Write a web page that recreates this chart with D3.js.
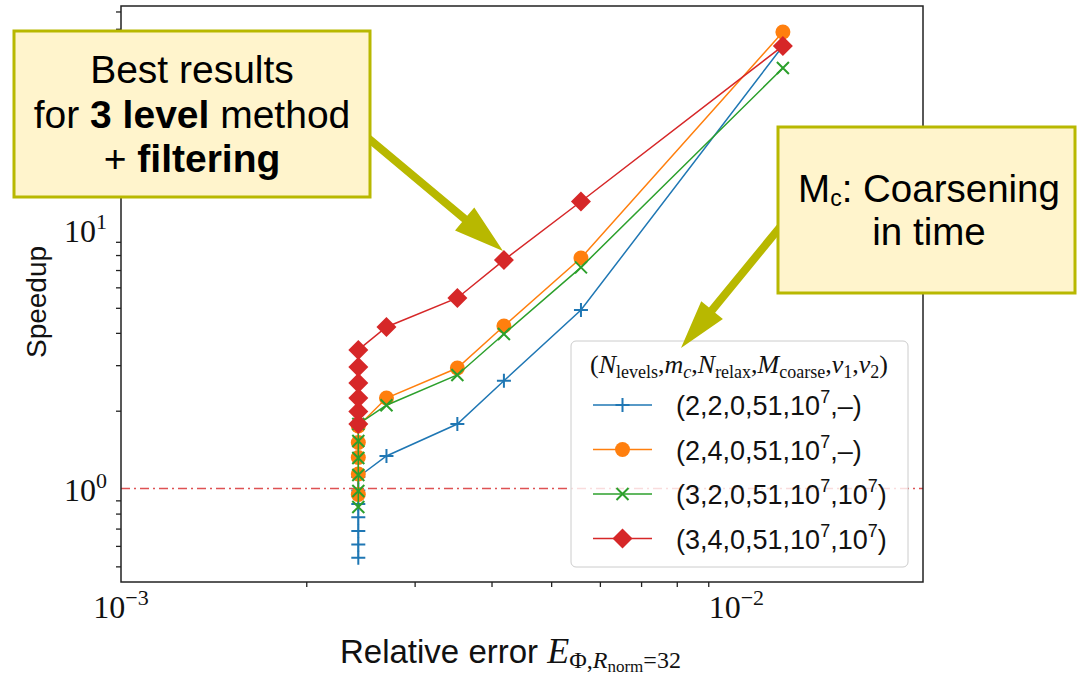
<!DOCTYPE html>
<html>
<head>
<meta charset="utf-8">
<script src="https://cdn.jsdelivr.net/npm/d3@7"></script>
<style>
body { margin: 0; background: #fff; }
svg { display: block; }
</style>
</head>
<body>
<svg id="chart" width="1080" height="676"></svg>
<script>
// relative error of the runs: the vertical cluster and the sweep to the right
var errCluster = 0.00243;
var errSweep = [0.00270, 0.00352, 0.00419, 0.00559, 0.0119];

// speedup values, 4 configurations
var blueCluster = [0.540, 0.608, 0.685, 0.774, 0.871, 0.982, 1.108];
var blueSweep = [1.336, 1.776, 2.61, 4.90, 51.5];
var orangeCluster = [0.948, 1.138, 1.318, 1.506, 1.745];
var orangeSweep = [2.239, 2.925, 4.253, 7.79, 58.3];
var greenCluster = [0.848, 0.978, 1.128, 1.312, 1.527, 1.776];
var greenSweep = [2.10, 2.75, 3.96, 7.17, 42.3];
var redCluster = [1.776, 1.986, 2.239, 2.559, 2.951, 3.435];
var redSweep = [4.216, 5.458, 7.65, 12.89, 51.5];

var seriesLabels = ["(2,2,0,51,10", "(2,4,0,51,10", "(3,2,0,51,10", "(3,4,0,51,10"];
var seriesTails = [",\u2013)", ",\u2013)", ",10", ",10"];
var colors = ["#1f77b4", "#ff7f0e", "#2ca02c", "#d62728"];
var markers = ["plus", "circle", "cross", "diamond"];

var xMajor = [1e-3, 1e-2];
var xMinor = [2e-3, 3e-3, 4e-3, 5e-3, 6e-3, 7e-3, 8e-3, 9e-3];
var yMajor = [1, 10];
var yMinor = [0.5, 0.6, 0.7, 0.8, 0.9, 2, 3, 4, 5, 6, 7, 8, 9, 20, 30, 40, 50, 60, 70];

var svg = d3.select("#chart");
var pL = 121, pR = 923, pT = 6, pB = 582;

var x = d3.scaleLog().domain([1e-3, 0.0201]).range([pL, pR]);
var y = d3.scaleLog().domain([0.435, 73.5]).range([pB, pT]);

function build(cluster, sweep) {
	return cluster.map(function(v) { return [errCluster, v]; })
		.concat(sweep.map(function(v, i) { return [errSweep[i], v]; }));
}
var series = [
	build(blueCluster, blueSweep),
	build(orangeCluster, orangeSweep),
	build(greenCluster, greenSweep),
	build(redCluster, redSweep)
];

var serif = "'Liberation Serif', 'DejaVu Serif', serif";
var sans = "'Liberation Sans', Arial, sans-serif";

// reference line at speedup 1
svg.append("line")
	.attr("x1", pL).attr("x2", pR)
	.attr("y1", y(1)).attr("y2", y(1))
	.style("stroke", "#d62728").style("stroke-opacity", 0.8)
	.style("stroke-width", 1.5)
	.style("stroke-dasharray", "9,4,2,4");

// axes
var xAxisG = svg.append("g").attr("transform", "translate(0," + pB + ")");
xAxisG.call(d3.axisBottom(x).tickValues(xMajor).tickFormat("").tickSize(8).tickSizeOuter(0));
xAxisG.call(d3.axisBottom(x).tickValues(xMinor).tickFormat("").tickSize(5).tickSizeOuter(0));
var yAxisG = svg.append("g").attr("transform", "translate(" + pL + ",0)");
yAxisG.call(d3.axisLeft(y).tickValues(yMajor).tickFormat("").tickSize(8).tickSizeOuter(0));
yAxisG.call(d3.axisLeft(y).tickValues(yMinor).tickFormat("").tickSize(5).tickSizeOuter(0));
svg.selectAll(".domain").remove();
svg.selectAll(".tick line").style("stroke", "#222").style("stroke-width", 1.3);

svg.append("rect")
	.attr("x", pL).attr("y", pT)
	.attr("width", pR - pL).attr("height", pB - pT)
	.style("fill", "none").style("stroke", "#222").style("stroke-width", 1.5);

// tick labels
xMajor.forEach(function(v) {
	var t = svg.append("text")
		.attr("x", x(v)).attr("y", pB + 36)
		.attr("text-anchor", "middle")
		.style("font-family", serif).style("font-size", "32px").style("fill", "#111");
	t.append("tspan").text("10");
	t.append("tspan").attr("dy", -13).style("font-size", "22px").text("\u2212" + Math.round(-Math.log10(v)));
});
yMajor.forEach(function(v) {
	var t = svg.append("text")
		.attr("x", pL - 14).attr("y", y(v) + 12)
		.attr("text-anchor", "end")
		.style("font-family", serif).style("font-size", "32px").style("fill", "#111");
	t.append("tspan").text("10");
	t.append("tspan").attr("dy", -13).style("font-size", "22px").text(Math.round(Math.log10(v)));
});

// axis titles
svg.append("text")
	.attr("transform", "translate(46," + 302 + ") rotate(-90)")
	.attr("text-anchor", "middle")
	.style("font-family", sans).style("font-size", "28px").style("fill", "#111")
	.text("Speedup");

var xl = svg.append("text")
	.attr("x", 340).attr("y", 663)
	.style("font-family", sans).style("font-size", "33px").style("fill", "#111");
xl.append("tspan").text("Relative error ");
xl.append("tspan").style("font-family", serif).style("font-style", "italic").style("font-size", "36px").text("E");
xl.append("tspan").attr("dy", 5).style("font-family", serif).style("font-size", "24px").text("\u03a6,");
xl.append("tspan").style("font-family", serif).style("font-style", "italic").style("font-size", "24px").text("R");
xl.append("tspan").attr("dy", 4).style("font-family", serif).style("font-size", "17px").text("norm");
xl.append("tspan").attr("dy", -4).style("font-family", serif).style("font-size", "24px").text("=32");

// marker shapes
function markerPath(kind) {
	if (kind == "plus") return "M-7,0H7M0,-7V7";
	if (kind == "cross") return "M-6,-6L6,6M-6,6L6,-6";
	if (kind == "diamond") return "M0,-10L10,0L0,10L-10,0Z";
	return d3.symbol().type(d3.symbolCircle).size(Math.PI * 7.5 * 7.5)();
}
function drawMarker(sel, kind, color) {
	sel.append("path")
		.attr("d", markerPath(kind))
		.style("fill", (kind == "circle" || kind == "diamond") ? color : "none")
		.style("stroke", color)
		.style("stroke-width", (kind == "plus" || kind == "cross") ? 2 : 0);
}

var line = d3.line()
	.x(function(d) { return x(d[0]); })
	.y(function(d) { return y(d[1]); });

series.forEach(function(pts, i) {
	var g = svg.append("g");
	g.append("path")
		.datum(pts)
		.attr("d", line)
		.style("fill", "none")
		.style("stroke", colors[i])
		.style("stroke-width", 1.5);
	var m = g.selectAll("g.pt")
		.data(pts)
		.enter().append("g")
		.attr("class", "pt")
		.attr("transform", function(d) { return "translate(" + x(d[0]) + "," + y(d[1]) + ")"; });
	drawMarker(m, markers[i], colors[i]);
});

// legend
var lg = svg.append("g");
lg.append("rect")
	.attr("x", 571).attr("y", 341).attr("width", 337).attr("height", 226).attr("rx", 5)
	.style("fill", "#fff").style("fill-opacity", 0.8)
	.style("stroke", "#cccccc").style("stroke-width", 1);

var title = lg.append("text")
	.attr("x", 739).attr("y", 373).attr("text-anchor", "middle")
	.style("font-family", serif).style("font-size", "26px").style("fill", "#111");
var titleParts = [["(", 0, 0], ["N", 0, 1], ["levels", 1, 0], [",", 0, 0], ["m", 0, 1], ["c", 1, 1], [",", 0, 0],
	["N", 0, 1], ["relax", 1, 0], [",", 0, 0], ["M", 0, 1], ["coarse", 1, 0], [",", 0, 0],
	["\u03bd", 0, 1], ["1", 1, 0], [",", 0, 0], ["\u03bd", 0, 1], ["2", 1, 0], [")", 0, 0]];
var lowered = 0;
titleParts.forEach(function(p) {
	var shift = (p[1] ? 5 : 0) - lowered;
	lowered = p[1] ? 5 : 0;
	title.append("tspan")
		.attr("dy", shift)
		.style("font-size", p[1] ? "18px" : "26px")
		.style("font-style", p[2] ? "italic" : "normal")
		.text(p[0]);
});

seriesLabels.forEach(function(lab, i) {
	var yy = 405 + i * 44.5;
	var e = lg.append("g");
	e.append("line")
		.attr("x1", 593).attr("x2", 652).attr("y1", yy).attr("y2", yy)
		.style("stroke", colors[i]).style("stroke-width", 1.5);
	var mk = e.append("g").attr("transform", "translate(622.5," + yy + ")");
	drawMarker(mk, markers[i], colors[i]);
	var t = e.append("text")
		.attr("x", 676).attr("y", yy + 10)
		.style("font-family", sans).style("font-size", "27px").style("fill", "#111");
	t.append("tspan").text(lab);
	t.append("tspan").attr("dy", -12).style("font-size", "18px").text("7");
	t.append("tspan").attr("dy", 12).text(seriesTails[i]);
	if (i >= 2) {
		t.append("tspan").attr("dy", -12).style("font-size", "18px").text("7");
		t.append("tspan").attr("dy", 12).text(")");
	}
});

// annotations
var olive = "#b8b800", cream = "#fff4cc";

function arrow(x1, y1, x2, y2, shaft, headW, headL) {
	var dx = x2 - x1, dy = y2 - y1, len = Math.sqrt(dx * dx + dy * dy);
	var ux = dx / len, uy = dy / len, nx = -uy, ny = ux;
	var bx = x2 - ux * headL, by = y2 - uy * headL;
	var pts = [
		[x1 + nx * shaft / 2, y1 + ny * shaft / 2],
		[bx + nx * shaft / 2, by + ny * shaft / 2],
		[bx + nx * headW / 2, by + ny * headW / 2],
		[x2, y2],
		[bx - nx * headW / 2, by - ny * headW / 2],
		[bx - nx * shaft / 2, by - ny * shaft / 2],
		[x1 - nx * shaft / 2, y1 - ny * shaft / 2]
	];
	svg.append("polygon")
		.attr("points", pts.map(function(p) { return p.join(","); }).join(" "))
		.style("fill", olive);
}

function box(bx, by, bw, bh) {
	svg.append("rect")
		.attr("x", bx).attr("y", by).attr("width", bw).attr("height", bh)
		.style("fill", cream).style("stroke", olive).style("stroke-width", 3);
}

arrow(368, 138, 503, 251, 8, 30, 50);
box(14, 31, 356, 166);
var a1 = svg.append("text").attr("text-anchor", "middle")
	.style("font-family", sans).style("font-size", "39px").style("fill", "#000");
a1.append("tspan").attr("x", 192).attr("y", 83).text("Best results");
a1.append("tspan").attr("x", 192).attr("y", 128).text("for ");
a1.append("tspan").style("font-weight", "bold").text("3 level");
a1.append("tspan").text(" method");
a1.append("tspan").attr("x", 192).attr("y", 172).text("+ ");
a1.append("tspan").style("font-weight", "bold").text("filtering");

arrow(781, 226, 681, 348, 8, 28, 49);
box(778, 127, 297, 166);
var a2 = svg.append("text").attr("text-anchor", "middle")
	.style("font-family", sans).style("font-size", "38.5px").style("fill", "#000");
a2.append("tspan").attr("x", 929).attr("y", 202).text("M");
a2.append("tspan").attr("dy", 4).style("font-size", "23px").text("c");
a2.append("tspan").attr("dy", -4).text(": Coarsening");
a2.append("tspan").attr("x", 929).attr("y", 245).text("in time");
</script>
</body>
</html>
